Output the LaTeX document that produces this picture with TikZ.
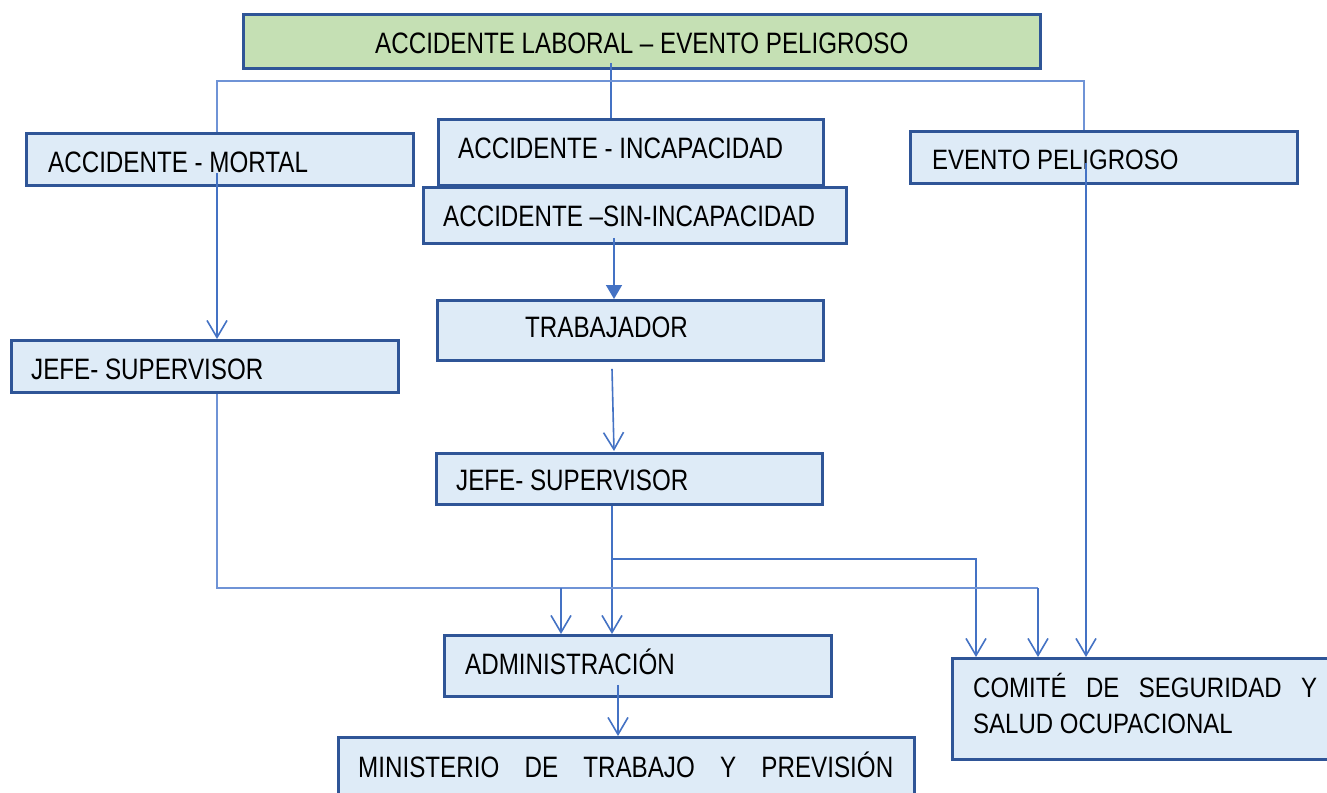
\documentclass[tikz,border=0pt]{standalone}
\usepackage{fontspec}
\setmainfont{Liberation Sans}
\newfontfamily\narrowfont[FakeStretch=0.82]{Liberation Sans}
\newfontfamily\widefont[FakeStretch=0.857]{Liberation Sans}
\usetikzlibrary{arrows.meta,calc}
\definecolor{boxblue}{HTML}{2F5597}
\definecolor{boxfill}{HTML}{DEEBF7}
\definecolor{greenfill}{HTML}{C5E0B4}
\definecolor{linkblue}{HTML}{4472C4}
\definecolor{lightlink}{HTML}{6F93D6}
\tikzset{
  box/.style={draw=boxblue, line width=2.8pt, fill=boxfill, rectangle, inner sep=0pt, anchor=north west},
  greenbox/.style={box, fill=greenfill},
  nlabel/.style={inner sep=0pt, anchor=base west, font=\narrowfont\fontsize{29.5}{34}\selectfont, text=black},
  wlabel/.style={inner sep=0pt, anchor=base west, font=\widefont\fontsize{28}{32}\selectfont, text=black},
  conn/.style={draw=linkblue, line width=1.6pt},
  thinconn/.style={draw=lightlink, line width=1.3pt},
  openarr/.style={-{Straight Barb[length=17pt,width=20pt,line width=1.6pt]}},
  triarr/.style={-{Triangle[length=14pt,width=16pt]}},
}
\begin{document}
\begin{tikzpicture}[x=1pt,y=-1pt]
\path[use as bounding box] (0,0) rectangle (1327,792);
\clip (0,0) rectangle (1327,792);
\fill[white] (0,0) rectangle (1327,792);

% boxes
\node[greenbox, minimum width=797pt, minimum height=54pt] (top) at (242,13) {};
\node[box, minimum width=387pt, minimum height=52pt] (mortal) at (25,132) {};
\node[box, minimum width=385pt, minimum height=66pt] (inc) at (437,118) {};
\node[box, minimum width=423pt, minimum height=56pt] (sin) at (422,186) {};
\node[box, minimum width=387pt, minimum height=52pt] (ev) at (909,130) {};
\node[box, minimum width=386pt, minimum height=60pt] (trab) at (436,299) {};
\node[box, minimum width=387pt, minimum height=52pt] (jefeL) at (10,339) {};
\node[box, minimum width=386pt, minimum height=51pt] (jefeM) at (435,452) {};
\node[box, minimum width=387pt, minimum height=61pt] (admin) at (443,634) {};
\node[box, minimum width=576pt, minimum height=70pt] (min) at (337,736) {};
\node[box, minimum width=390pt, minimum height=101pt] (com) at (951,657) {};

% texts
\node[nlabel] (ttop) at (375,53) {ACCIDENTE LABORAL – EVENTO PELIGROSO};
\node[nlabel] (tmortal) at (48,172) {ACCIDENTE - MORTAL};
\node[nlabel] (tinc) at (458,158) {ACCIDENTE - INCAPACIDAD};
\node[nlabel] (tsin) at (443,226) {ACCIDENTE –SIN-INCAPACIDAD};
\node[nlabel] (ttrab) at (525,337) {TRABAJADOR};
\node[nlabel] (tjefeL) at (31,379) {JEFE- SUPERVISOR};
\node[nlabel] (tjefeM) at (456,490) {JEFE- SUPERVISOR};
\node[nlabel] (tadmin) at (465,674) {ADMINISTRACIÓN};
\node[nlabel] (tmin) at (358,777) {\hbox to 535pt{MINISTERIO\hfill DE\hfill TRABAJO\hfill Y\hfill PREVISIÓN}};
\node[wlabel] (tev) at (932,169) {EVENTO PELIGROSO};
\node[wlabel] (tcom1) at (973,697) {\hbox to 344pt{COMITÉ\hfill DE\hfill SEGURIDAD\hfill Y}};
\node[wlabel] (tcom2) at (973,733) {SALUD OCUPACIONAL};

% reference x positions and bends
\coordinate (xA) at (611,0);
\coordinate (hL) at (217,81);
\coordinate (hR) at (1084,81);
\coordinate (xM) at (217,0);
\coordinate (xS) at (614,0);
\coordinate (xJ) at (612,0);
\coordinate (xE) at (1086,0);
\coordinate (xAd) at (618,0);
\coordinate (bJ) at (612,559);
\coordinate (bJR) at (976,559);
\coordinate (bL) at (217,588);
\coordinate (bLA) at (561,588);
\coordinate (bLR) at (1038,588);

% connectors
\draw[conn] ($(top.south -| xA)+(0,-7)$) -- (inc.north -| xA);
\draw[thinconn] (mortal.north -| hL) -- (hL) -- (hR) -- (ev.north -| hR);
\draw[conn,openarr] ($(mortal.south -| xM)+(0,-14)$) -- (jefeL.north -| xM);
\draw[conn,triarr] ($(sin.south -| xS)+(0,-7)$) -- (trab.north -| xS);
\draw[conn,openarr] ($(trab.south -| xJ)+(0,7)$) -- ($(jefeM.north -| xS)+(0,-1)$);
\draw[conn,openarr] (jefeM.south -| xJ) -- (admin.north -| xJ);
\draw[conn,openarr] (bJ) -- (bJR) -- (com.north -| bJR);
\draw[thinconn] (jefeL.south -| xM) -- (bL) -- (bLR);
\draw[conn,openarr] (bLR) -- (com.north -| bLR);
\draw[conn,openarr] (bLA) -- (admin.north -| bLA);
\draw[conn,openarr] ($(ev.south -| xE)+(0,-22)$) -- (com.north -| xE);
\draw[conn,openarr] ($(admin.south -| xAd)+(0,-13)$) -- (min.north -| xAd);
\end{tikzpicture}
\end{document}
